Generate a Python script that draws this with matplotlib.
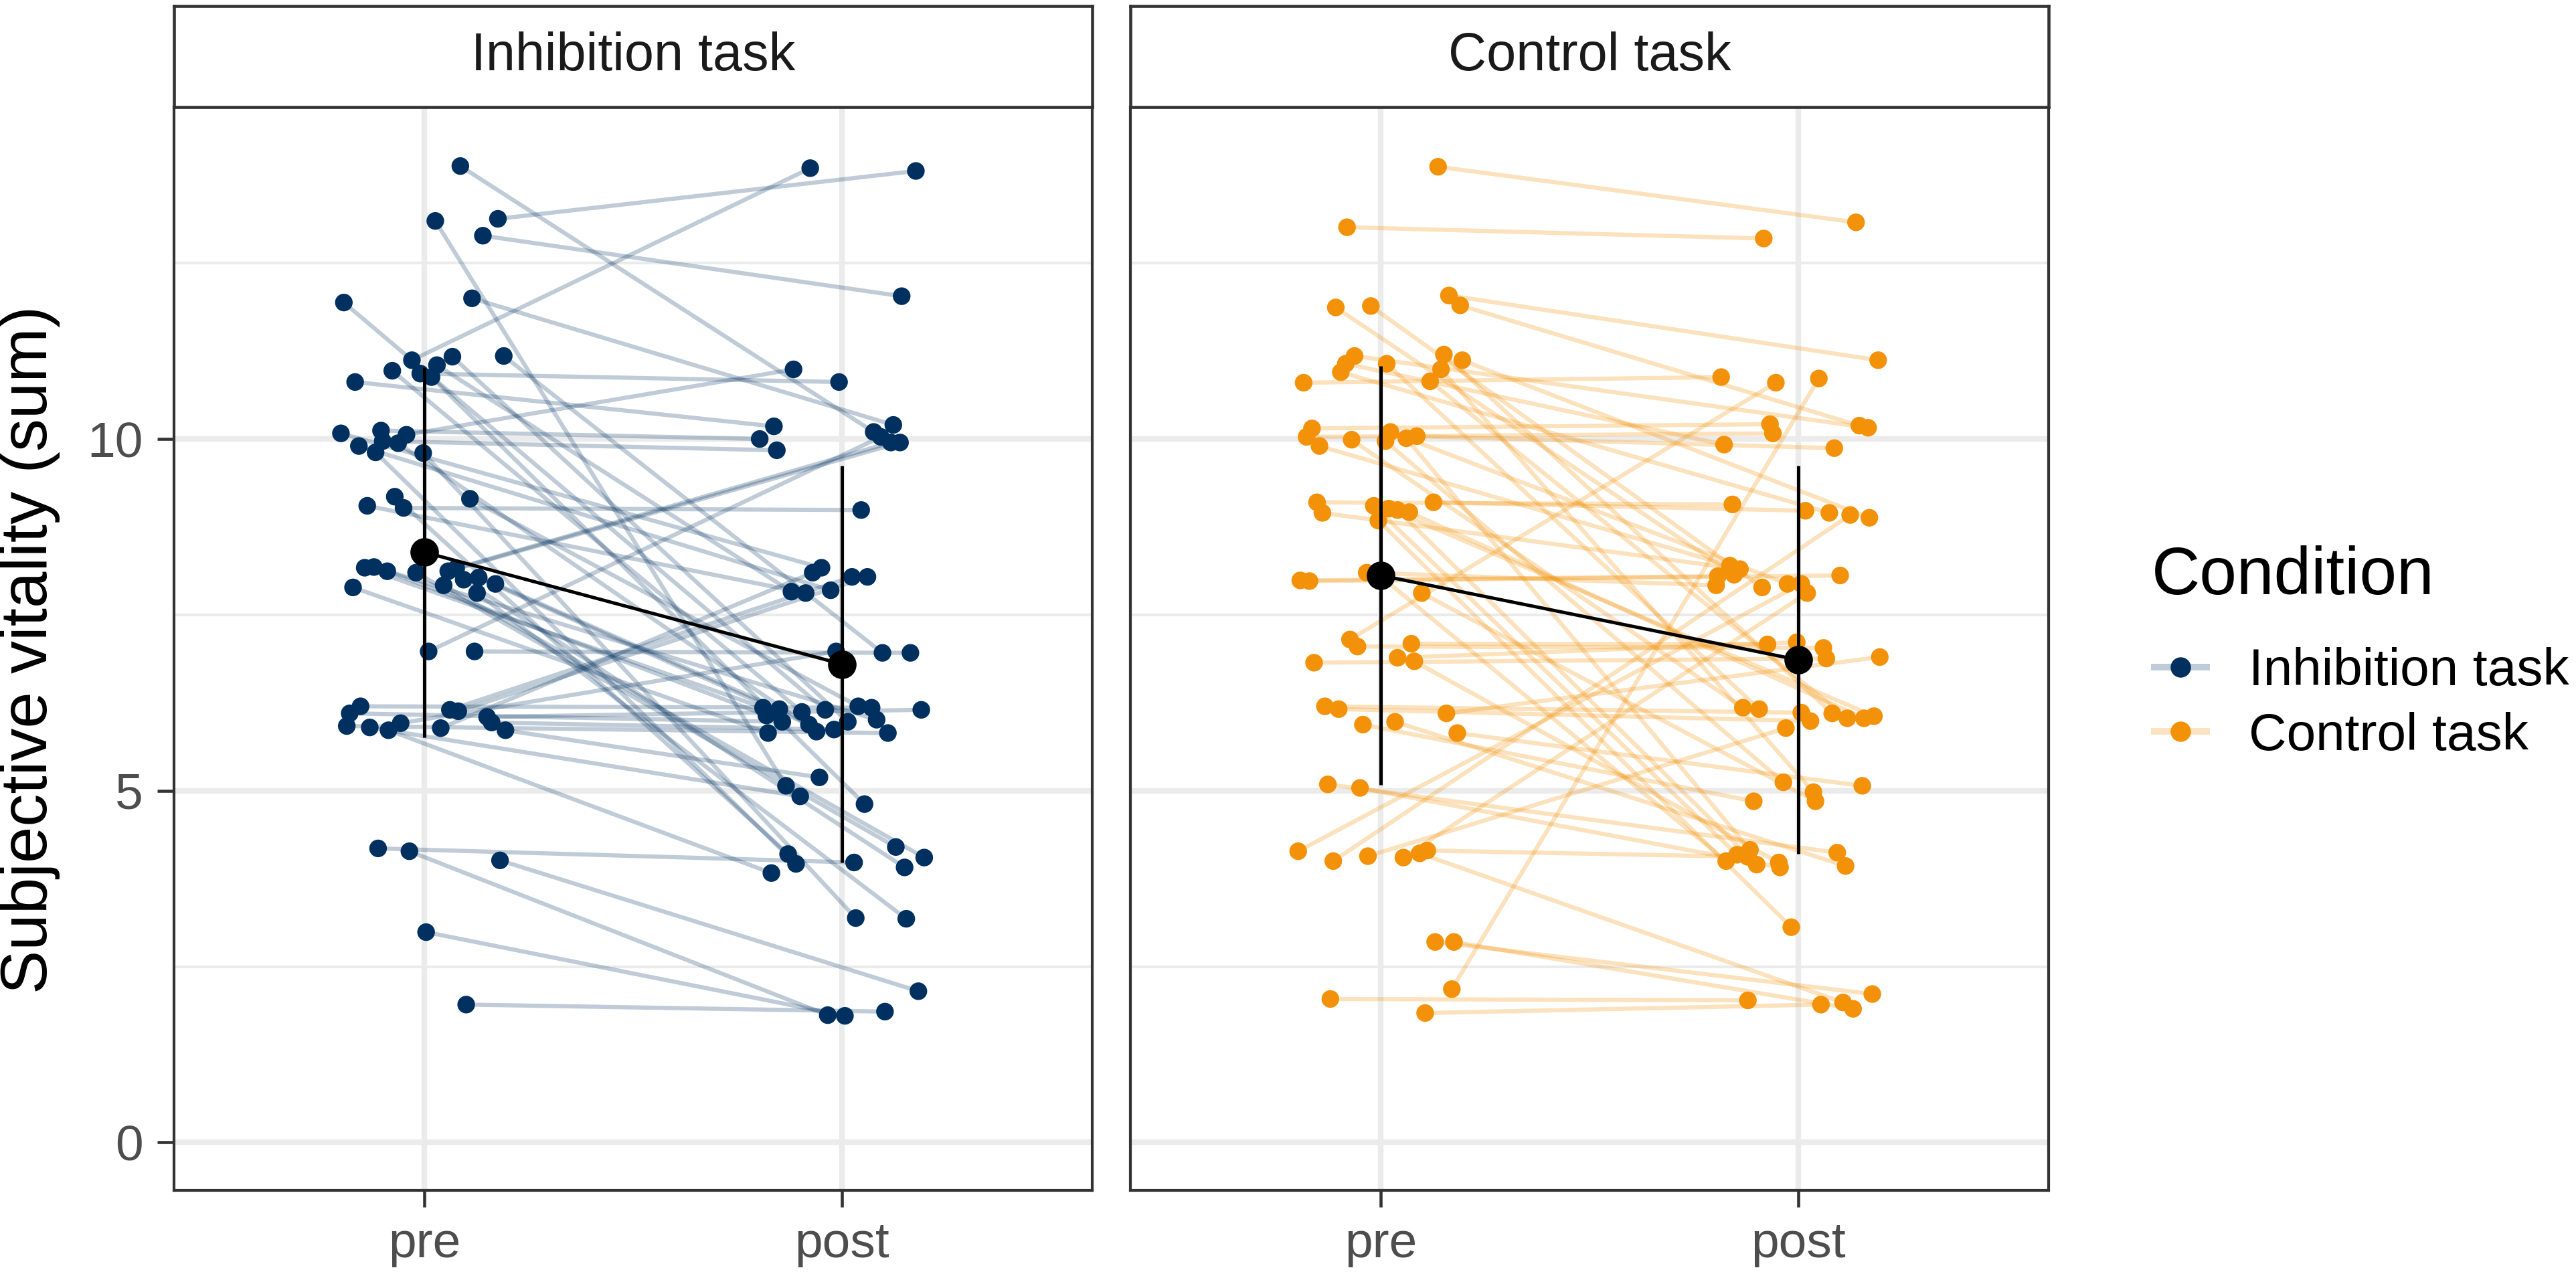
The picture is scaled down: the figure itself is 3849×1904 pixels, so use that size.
import numpy as np
import matplotlib.pyplot as plt
from matplotlib.lines import Line2D

plt.rcParams['font.family'] = ['Liberation Sans', 'DejaVu Sans']

# x positions are jittered around 1 (pre) and 2 (post); i-th pre pairs with i-th post
# --- Inhibition task ---
inh_pre_y = [13.88, 13.13, 13.10, 12.89, 12.00, 11.94, 11.18, 11.17, 11.12, 11.05,
             10.97, 10.93, 10.88, 10.81, 10.12, 10.08, 10.06, 9.97, 9.94, 9.90,
             9.81, 9.80, 9.18, 9.15, 9.05, 9.02, 8.18, 8.17, 8.16, 8.12,
             8.12, 8.10, 8.03, 8.00, 7.94, 7.92, 7.89, 7.81, 6.98, 6.98,
             6.20, 6.15, 6.13, 6.10, 6.05, 5.97, 5.96, 5.92, 5.90, 5.89,
             5.86, 5.86, 4.18, 4.14, 4.01, 2.99, 1.96]
inh_pre_x = [1.086, 1.176, 1.026, 1.140, 1.114, 0.807, 1.190, 1.067, 0.970, 1.030,
             0.923, 0.990, 1.017, 0.834, 0.896, 0.800, 0.957, 0.900, 0.937, 0.843,
             0.883, 0.997, 0.929, 1.109, 0.863, 0.950, 0.879, 0.857, 1.076, 0.911,
             1.057, 0.980, 1.130, 1.094, 1.170, 1.046, 0.829, 1.126, 1.010, 1.120,
             0.847, 1.061, 1.081, 0.821, 1.150, 1.161, 0.943, 0.814, 0.869, 1.039,
             0.914, 1.194, 0.889, 0.964, 1.181, 1.004, 1.100]
inh_post_y = [10.10, 13.81, 5.07, 12.03, 10.20, 6.15, 6.96, 5.98, 13.85, 7.83,
              6.12, 10.81, 4.81, 10.18, 10.00, 8.17, 10.99, 9.84, 5.84, 7.85,
              3.96, 3.19, 4.10, 6.20, 7.81, 8.99, 6.01, 6.18, 9.95, 6.07,
              9.95, 4.20, 5.94, 3.91, 6.16, 4.05, 5.82, 3.18, 10.03, 6.96,
              6.18, 8.04, 8.04, 5.98, 6.15, 5.87, 6.98, 5.82, 4.92, 8.10,
              3.83, 5.19, 3.98, 1.81, 2.15, 1.80, 1.86]
inh_post_x = [2.076, 2.177, 1.866, 2.143, 2.123, 1.960, 2.097, 2.014, 1.924, 1.879,
              1.904, 1.993, 2.054, 1.837, 1.803, 1.951, 1.884, 1.844, 1.939, 1.973,
              1.890, 2.033, 1.871, 2.039, 1.913, 2.046, 2.083, 1.811, 2.117, 1.819,
              2.139, 2.129, 1.921, 2.150, 1.850, 2.197, 1.823, 2.154, 2.093, 2.164,
              2.071, 2.024, 2.061, 1.857, 2.190, 1.981, 1.986, 2.110, 1.900, 1.930,
              1.831, 1.946, 2.029, 1.966, 2.183, 2.007, 2.103]

# --- Control task ---
con_pre_y = [13.87, 13.01, 12.04, 11.90, 11.89, 11.87, 11.20, 11.18, 11.12, 11.07,
             11.07, 10.99, 10.95, 10.82, 10.80, 10.15, 10.10, 10.04, 10.03, 10.01,
             9.99, 9.97, 9.90, 9.10, 9.10, 9.05, 9.01, 8.99, 8.96, 8.95,
             8.84, 8.10, 8.02, 7.99, 7.98, 7.81, 7.15, 7.09, 7.05, 6.89,
             6.84, 6.82, 6.20, 6.16, 6.10, 5.98, 5.94, 5.82, 5.09, 5.04,
             4.15, 4.14, 4.11, 4.07, 4.05, 4.00, 2.85, 2.85, 2.18, 2.04, 1.84]
con_pre_x = [1.137, 0.919, 1.163, 1.190, 0.976, 0.892, 1.151, 0.937, 1.195, 0.916,
             1.014, 1.144, 0.904, 1.118, 0.815, 0.835, 1.023, 1.086, 0.822, 1.061,
             0.930, 1.011, 0.853, 0.847, 1.126, 0.983, 1.019, 1.040, 1.068, 0.860,
             0.994, 0.966, 1.005, 0.807, 0.829, 1.098, 0.926, 1.073, 0.944, 1.040,
             1.080, 0.840, 0.866, 0.899, 1.157, 1.034, 0.957, 1.183, 0.873, 0.950,
             1.111, 0.802, 1.093, 0.969, 1.054, 0.886, 1.130, 1.175, 1.170, 0.879, 1.106]
con_post_y = [13.08, 12.85, 11.12, 10.19, 7.89, 8.07, 6.10, 10.16, 8.88, 9.92,
              6.16, 4.98, 8.95, 6.03, 10.88, 10.21, 7.94, 9.87, 10.08, 4.16,
              6.18, 5.12, 8.20, 9.07, 8.98, 4.09, 6.06, 3.95, 6.03, 8.15,
              3.06, 7.92, 4.00, 8.05, 8.06, 4.85, 10.80, 7.08, 7.03, 7.11,
              3.98, 6.88, 6.11, 5.99, 6.90, 3.93, 4.85, 5.07, 4.12, 3.91,
              4.06, 7.94, 1.99, 5.89, 7.81, 8.92, 2.11, 1.90, 10.86, 2.02, 1.96]
con_post_x = [2.138, 1.917, 2.191, 2.146, 1.913, 1.846, 2.081, 2.167, 2.170, 1.822,
              1.906, 2.036, 2.074, 2.117, 1.815, 1.932, 1.974, 2.086, 1.939, 1.884,
              1.867, 1.964, 1.836, 1.842, 2.017, 1.853, 2.181, 1.900, 2.157, 1.860,
              1.983, 1.803, 1.827, 1.807, 2.100, 2.041, 1.946, 1.926, 2.060, 1.996,
              1.953, 2.067, 2.007, 2.029, 2.195, 2.113, 1.893, 2.153, 2.093, 1.956,
              1.879, 2.007, 2.107, 1.970, 2.021, 2.124, 2.177, 2.131, 2.049, 1.879, 2.054]

# group means and SDs (pre, post)
inh_mean = [8.39, 6.80]
inh_sd = [2.63, 2.82]
con_mean = [8.06, 6.86]
con_sd = [2.98, 2.76]

time_labels = ['pre', 'post']
panel_titles = ['Inhibition task', 'Control task']

navy = '#00305F'
orange = '#F39208'

fig = plt.figure(figsize=(12.833, 6.347), dpi=300)

panels = [
    (0.0675, inh_pre_x, inh_pre_y, inh_post_x, inh_post_y, inh_mean, inh_sd, navy, 0.25),
    (0.4387, con_pre_x, con_pre_y, con_post_x, con_post_y, con_mean, con_sd, orange, 0.27),
]

for i, (left, px, py, qx, qy, m, sd, col, la) in enumerate(panels):
    ax = fig.add_axes([left, 0.0657, 0.3565, 0.8503])
    ax.set_xlim(0.4, 2.6)
    ax.set_ylim(-0.68, 14.72)

    # grid
    for y in [2.5, 7.5, 12.5]:
        ax.axhline(y, color='#EBEBEB', lw=1.0, zorder=0)
    for y in [0, 5, 10]:
        ax.axhline(y, color='#EBEBEB', lw=2.0, zorder=0)
    for x in [1, 2]:
        ax.axvline(x, color='#EBEBEB', lw=2.0, zorder=0)

    ax.plot([px, qx], [py, qy], color=col, alpha=la, lw=1.5, zorder=2)
    ax.scatter(px, py, s=40, color=col, edgecolors='none', zorder=3)
    ax.scatter(qx, qy, s=40, color=col, edgecolors='none', zorder=3)

    xs = [1, 2]
    ax.vlines(xs, np.array(m) - np.array(sd), np.array(m) + np.array(sd),
              color='black', lw=1.2, zorder=4)
    ax.plot(xs, m, color='black', lw=1.2, zorder=4)
    ax.scatter(xs, m, s=85, color='black', zorder=5)

    ax.set_xticks(xs)
    ax.set_xticklabels(time_labels)
    ax.set_yticks([0, 5, 10])
    ax.tick_params(axis='both', length=6, width=1.1, color='#333333',
                   labelsize=18, labelcolor='#4D4D4D', pad=5)
    if i > 0:
        ax.tick_params(axis='y', labelleft=False, left=False)
    for s in ax.spines.values():
        s.set_color('#333333')
        s.set_linewidth(1.0)

    # facet strip
    sax = fig.add_axes([left, 0.9160, 0.3565, 0.0793])
    sax.set_xticks([])
    sax.set_yticks([])
    for s in sax.spines.values():
        s.set_color('#333333')
        s.set_linewidth(1.1)
    sax.text(0.5, 0.5, panel_titles[i], ha='center', va='center',
             fontsize=19, color='#1A1A1A', transform=sax.transAxes)

fig.text(0.0115, 0.49, 'Subjective vitality (sum)', rotation=90,
         ha='center', va='center', fontsize=23.5)

# legend
handles = [
    Line2D([], [], color=(0.0, 0.188, 0.373, 0.25), marker='o', markersize=6.3,
           markerfacecolor=navy, markeredgecolor=navy, lw=2.4),
    Line2D([], [], color=(0.953, 0.573, 0.031, 0.25), marker='o', markersize=6.3,
           markerfacecolor=orange, markeredgecolor=orange, lw=2.4),
]
fig.text(0.835, 0.5475, 'Condition', ha='left', va='center', fontsize=24)
fig.legend(handles, panel_titles, loc='upper left',
           bbox_to_anchor=(0.836, 0.492), frameon=False, fontsize=18.8,
           handlelength=1.0, handletextpad=0.8, labelspacing=0.3,
           borderaxespad=0, borderpad=0)

fig.savefig('out.png', dpi=300)
